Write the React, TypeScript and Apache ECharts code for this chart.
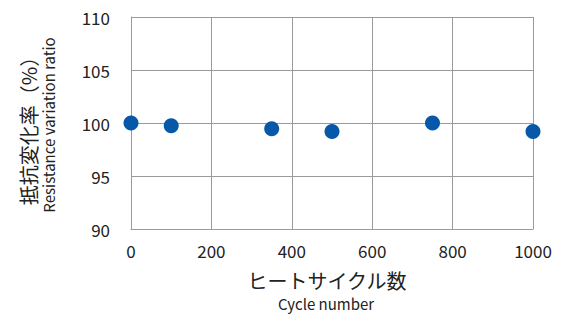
import React, { useEffect, useRef } from "react";
import * as echarts from "echarts";

const cycles = [0, 100, 350, 500, 750, 1000];
const ratios = [100.0, 99.75, 99.45, 99.2, 100.0, 99.2];
const yTitleJa = "抵抗変化率（%）";
const yTitleEn = "Resistance variation ratio";
const xTitleJa = "ヒートサイクル数";
const xTitleEn = "Cycle number";

const FONT = "'Noto Sans CJK JP', 'Noto Sans', sans-serif";

export default function App() {
  const ref = useRef<HTMLDivElement>(null);
  useEffect(() => {
    document.body.style.margin = "0";
    if (!ref.current) return;
    const chart = echarts.init(ref.current, null, { renderer: "svg" });
    chart.setOption({
      animation: false,
      backgroundColor: "#ffffff",
      grid: { left: 131, right: 31, top: 17, bottom: 85, containLabel: false },
      xAxis: {
        type: "value",
        min: 0,
        max: 1000,
        interval: 200,
        axisLine: { show: true, lineStyle: { color: "#9a9a9a", width: 1 } },
        axisTick: { show: false },
        splitLine: { show: true, lineStyle: { color: "#9a9a9a", width: 1 } },
        axisLabel: {
          color: "#222",
          fontSize: 17,
          fontFamily: FONT,
          margin: 13,
          formatter: (v: number) => String(v),
        },
      },
      yAxis: {
        type: "value",
        min: 90,
        max: 110,
        interval: 5,
        axisLine: { show: true, lineStyle: { color: "#9a9a9a", width: 1 } },
        axisTick: { show: false },
        splitLine: { show: true, lineStyle: { color: "#9a9a9a", width: 1 } },
        axisLabel: { color: "#222", fontSize: 17, fontFamily: FONT, margin: 21 },
      },
      graphic: [
        {
          type: "text",
          x: 28,
          y: 126,
          rotation: Math.PI / 2,
          style: {
            text: yTitleJa,
            fontSize: 20,
            fontFamily: FONT,
            fill: "#222",
            align: "center",
            verticalAlign: "middle",
          },
        },
        {
          type: "text",
          x: 48,
          y: 125,
          rotation: Math.PI / 2,
          style: {
            text: yTitleEn,
            fontSize: 15,
            fontFamily: FONT,
            fill: "#222",
            align: "center",
            verticalAlign: "middle",
          },
        },
        {
          type: "text",
          x: 327,
          y: 280,
          style: {
            text: xTitleJa,
            fontSize: 20,
            fontFamily: FONT,
            fill: "#222",
            align: "center",
            verticalAlign: "middle",
          },
        },
        {
          type: "text",
          x: 326,
          y: 303,
          style: {
            text: xTitleEn,
            fontSize: 15,
            fontFamily: FONT,
            fill: "#222",
            align: "center",
            verticalAlign: "middle",
          },
        },
      ],
      series: [
        {
          type: "scatter",
          data: cycles.map((c, i) => [c, ratios[i]]),
          symbolSize: 15,
          itemStyle: { color: "#0758a8", opacity: 1 },
          clip: false,
        },
      ],
    });
    return () => chart.dispose();
  }, []);
  return <div ref={ref} style={{ width: 564, height: 314 }} />;
}
